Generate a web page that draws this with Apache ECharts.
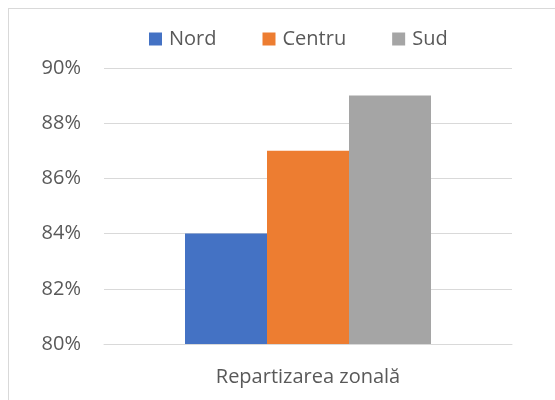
<!DOCTYPE html>
<html>
<head>
<meta charset="utf-8">
<script src="https://cdn.jsdelivr.net/npm/echarts@6/dist/echarts.min.js"></script>
<style>
  html, body { margin: 0; padding: 0; background: #fff; overflow: hidden; }
  #frame { position: absolute; left: 8px; top: 8px; width: 700px; height: 600px; border: 1px solid #d9d9d9; box-sizing: border-box; }
  #chart { position: absolute; left: 0; top: 0; width: 555px; height: 400px; }
</style>
</head>
<body>
<div id="frame"></div>
<div id="chart"></div>
<script>
    // date
    var categories = ['Repartizarea zonală'];
    var seriesNames = ['Nord', 'Centru', 'Sud'];
    var nordValues = [84];
    var centruValues = [87];
    var sudValues = [89];
    var colors = ['#4472C4', '#ED7D31', '#A5A5A5'];

    var font = '"Open Sans", sans-serif';
    var chart = echarts.init(document.getElementById('chart'));
    var option = {
        backgroundColor: 'transparent',
        textStyle: { fontFamily: font },
        legend: {
            left: 144,
            top: 24,
            itemWidth: 13,
            itemHeight: 13,
            itemGap: 46,
            icon: 'rect',
            data: seriesNames,
            textStyle: { fontFamily: font, fontSize: 20, color: '#595959', padding: [0, 0, 0, 2] }
        },
        grid: { left: 104, right: 43, top: 68, bottom: 56 },
        xAxis: {
            type: 'category',
            data: categories,
            axisLine: { lineStyle: { color: '#d9d9d9' } },
            axisTick: { show: false },
            axisLabel: { fontFamily: font, fontSize: 20, color: '#595959', margin: 23 }
        },
        yAxis: {
            type: 'value',
            min: 80,
            max: 90,
            interval: 2,
            axisLine: { show: false },
            axisTick: { show: false },
            splitLine: { lineStyle: { color: '#d9d9d9' } },
            axisLabel: { formatter: '{value}%', fontFamily: font, fontSize: 20, color: '#595959', margin: 23 }
        },
        series: [
            { name: seriesNames[0], type: 'bar', data: nordValues, barWidth: 82, barGap: 0, itemStyle: { color: colors[0] } },
            { name: seriesNames[1], type: 'bar', data: centruValues, barWidth: 82, barGap: 0, itemStyle: { color: colors[1] } },
            { name: seriesNames[2], type: 'bar', data: sudValues, barWidth: 82, barGap: 0, itemStyle: { color: colors[2] } }
        ]
    };
    chart.setOption(option);
</script>
</body>
</html>
